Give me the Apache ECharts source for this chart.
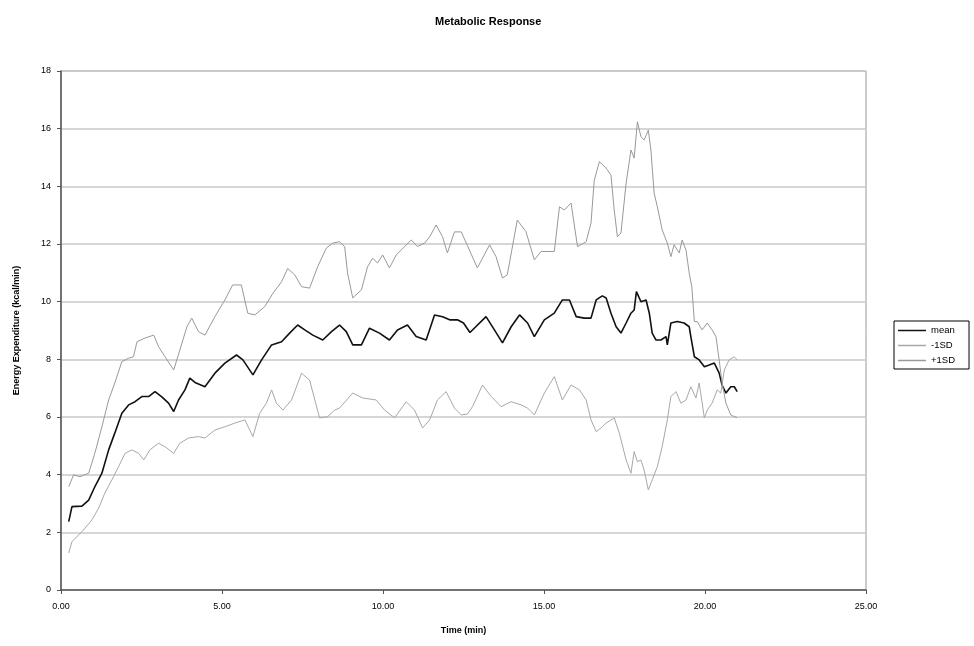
<!DOCTYPE html>
<html>
<head>
<meta charset="utf-8">
<script src="https://cdn.jsdelivr.net/npm/echarts@6/dist/echarts.min.js"></script>
<style>html,body{margin:0;padding:0;background:#fff}#c{width:974px;height:646px}</style>
</head>
<body>
<div id="c"></div>
<script>
var seriesNames = ['mean', '-1SD', '+1SD'];
var yTicks = [0, 2, 4, 6, 8, 10, 12, 14, 16, 18];
var xTicks = [0, 5, 10, 15, 20, 25];

var meanT = [0.24,0.34,0.65,0.86,1.05,1.27,1.48,1.67,1.89,2.10,2.30,2.51,2.72,2.92,3.13,3.34,3.50,3.65,3.85,4.00,4.16,4.47,4.78,5.09,5.45,5.65,5.96,6.23,6.54,6.85,7.10,7.35,7.57,7.82,8.13,8.40,8.65,8.86,9.06,9.33,9.58,9.89,10.20,10.45,10.76,11.03,11.34,11.60,11.85,12.07,12.31,12.50,12.70,13.20,13.46,13.71,13.98,14.24,14.49,14.70,15.01,15.32,15.57,15.79,16.00,16.25,16.46,16.62,16.81,16.93,17.08,17.24,17.39,17.55,17.70,17.80,17.87,18.01,18.17,18.27,18.36,18.48,18.63,18.79,18.83,18.94,19.14,19.35,19.51,19.56,19.67,19.82,19.98,20.13,20.29,20.44,20.53,20.65,20.80,20.91,21.00];
var meanV = [2.37,2.89,2.91,3.12,3.58,4.05,4.86,5.44,6.13,6.42,6.53,6.71,6.71,6.88,6.70,6.48,6.19,6.59,6.94,7.35,7.20,7.05,7.52,7.87,8.15,7.98,7.46,7.98,8.50,8.61,8.91,9.19,9.02,8.84,8.67,8.96,9.19,8.96,8.50,8.50,9.08,8.91,8.67,9.02,9.19,8.79,8.67,9.54,9.48,9.37,9.37,9.26,8.93,9.48,9.02,8.57,9.13,9.54,9.26,8.79,9.37,9.60,10.06,10.06,9.48,9.43,9.43,10.06,10.20,10.13,9.60,9.13,8.91,9.26,9.60,9.71,10.35,10.00,10.06,9.60,8.91,8.67,8.67,8.79,8.50,9.26,9.31,9.26,9.13,8.79,8.09,7.98,7.74,7.80,7.87,7.52,7.11,6.83,7.05,7.05,6.88];

var minusT = [0.24,0.34,0.65,0.96,1.17,1.36,1.58,1.79,1.99,2.20,2.41,2.57,2.76,3.03,3.23,3.50,3.69,3.96,4.27,4.47,4.78,5.09,5.40,5.71,5.96,6.17,6.38,6.54,6.69,6.89,7.16,7.47,7.72,8.03,8.28,8.50,8.65,9.06,9.37,9.79,10.05,10.36,10.72,10.98,11.23,11.45,11.69,11.96,12.22,12.43,12.62,12.78,13.09,13.36,13.67,13.98,14.29,14.49,14.70,15.01,15.32,15.57,15.84,16.10,16.31,16.46,16.62,16.81,16.93,17.18,17.34,17.55,17.70,17.80,17.90,18.01,18.11,18.24,18.36,18.52,18.67,18.83,18.94,19.10,19.25,19.41,19.56,19.72,19.82,19.98,20.07,20.22,20.38,20.49,20.60,20.75,20.91,21.00];
var minusV = [1.28,1.68,2.02,2.43,2.84,3.36,3.82,4.28,4.74,4.86,4.74,4.51,4.86,5.09,4.97,4.74,5.09,5.27,5.32,5.27,5.55,5.66,5.79,5.90,5.32,6.13,6.48,6.94,6.48,6.24,6.59,7.52,7.28,5.97,6.01,6.24,6.31,6.83,6.66,6.59,6.24,5.97,6.53,6.24,5.62,5.90,6.59,6.88,6.31,6.07,6.10,6.36,7.11,6.71,6.36,6.53,6.42,6.31,6.07,6.83,7.40,6.59,7.11,6.94,6.59,5.90,5.49,5.66,5.79,5.97,5.44,4.51,4.05,4.80,4.45,4.51,4.16,3.47,3.82,4.28,4.97,5.90,6.71,6.88,6.48,6.59,7.05,6.66,7.18,5.97,6.24,6.48,6.94,6.83,7.63,7.98,8.09,7.98];

var plusT = [0.24,0.39,0.59,0.86,1.05,1.27,1.48,1.67,1.89,2.10,2.25,2.36,2.61,2.88,3.03,3.23,3.50,3.69,3.91,4.06,4.27,4.47,4.78,5.09,5.33,5.60,5.80,6.02,6.33,6.58,6.85,7.04,7.26,7.47,7.72,7.97,8.24,8.44,8.65,8.81,8.90,9.06,9.33,9.52,9.68,9.83,9.99,10.20,10.41,10.67,10.88,11.07,11.29,11.45,11.65,11.85,12.00,12.22,12.43,12.62,12.93,13.31,13.51,13.71,13.86,14.17,14.44,14.70,14.91,15.32,15.48,15.63,15.84,16.04,16.31,16.46,16.56,16.72,16.93,17.08,17.18,17.28,17.39,17.55,17.70,17.80,17.90,18.01,18.11,18.24,18.32,18.42,18.52,18.67,18.83,18.94,19.04,19.20,19.29,19.41,19.51,19.59,19.67,19.76,19.91,20.07,20.22,20.34,20.44,20.53,20.65,20.80,21.00];
var plusV = [3.58,3.99,3.93,4.05,4.74,5.66,6.59,7.18,7.92,8.04,8.09,8.61,8.74,8.84,8.44,8.09,7.63,8.32,9.13,9.43,8.96,8.84,9.48,10.06,10.58,10.58,9.60,9.54,9.83,10.29,10.69,11.15,10.93,10.52,10.47,11.21,11.86,12.03,12.08,11.91,10.99,10.13,10.41,11.21,11.51,11.34,11.62,11.17,11.62,11.91,12.14,11.91,12.03,12.25,12.66,12.25,11.69,12.42,12.42,11.95,11.17,11.97,11.56,10.82,10.93,12.83,12.43,11.45,11.74,11.74,13.29,13.18,13.42,11.91,12.08,12.73,14.20,14.86,14.63,14.39,13.18,12.25,12.38,14.11,15.26,14.98,16.24,15.72,15.61,15.95,15.26,13.77,13.29,12.49,12.03,11.56,11.97,11.69,12.14,11.79,10.99,10.52,9.31,9.31,9.02,9.26,9.02,8.79,7.98,7.18,6.48,6.07,5.97];

function zip(t, v) { return t.map(function (x, i) { return [x, v[i]]; }); }

var chart = echarts.init(document.getElementById('c'), null, {renderer: 'canvas'});
var font = 'Liberation Sans, Arial, sans-serif';
chart.setOption({
  animation: false,
  backgroundColor: '#fff',
  title: {
    text: 'Metabolic Response',
    left: 430, top: 11,
    textStyle: {fontFamily: font, fontSize: 11, fontWeight: 'bold', color: '#000'}
  },
  legend: {
    orient: 'vertical',
    left: 894, top: 321,
    data: seriesNames.map(function (n) { return {name: n, icon: 'rect'}; }),
    itemWidth: 28, itemHeight: 1.5, itemGap: 4,
    padding: [4, 14, 3, 4],
    borderColor: '#000', borderWidth: 1,
    textStyle: {fontFamily: font, fontSize: 9.5, color: '#000', lineHeight: 11}
  },
  grid: {left: 61, right: 108, top: 71, bottom: 56, show: true, borderColor: '#999', borderWidth: 1},
  xAxis: {
    type: 'value', min: 0, max: 25, interval: 5,
    name: 'Time (min)', nameLocation: 'middle', nameGap: 36,
    nameTextStyle: {fontFamily: font, fontSize: 9, fontWeight: 'bold', color: '#000'},
    axisLine: {show: true, lineStyle: {color: '#555', width: 1.5}},
    axisTick: {show: true, length: 4, lineStyle: {color: '#555'}},
    axisLabel: {fontFamily: font, fontSize: 9, color: '#000', margin: 12,
      formatter: function (v) { return xTicks.indexOf(v) >= 0 ? v.toFixed(2) : ''; }},
    splitLine: {show: false}
  },
  yAxis: {
    type: 'value', min: 0, max: 18, interval: 2,
    name: 'Energy Expenditure (kcal/min)', nameLocation: 'middle', nameGap: 40,
    nameTextStyle: {fontFamily: font, fontSize: 9, fontWeight: 'bold', color: '#000'},
    axisLine: {show: true, lineStyle: {color: '#555', width: 1.5}},
    axisTick: {show: true, length: 4, lineStyle: {color: '#555'}},
    axisLabel: {fontFamily: font, fontSize: 9, color: '#000', margin: 10,
      formatter: function (v) { return yTicks.indexOf(v) >= 0 ? String(v) : ''; }},
    splitLine: {show: true, lineStyle: {color: '#c8c8c8', width: 1.5}}
  },
  series: [
    {name: seriesNames[0], type: 'line', data: zip(meanT, meanV), showSymbol: false, symbol: 'none', z: 3,
      lineStyle: {color: '#111', width: 1.6}, itemStyle: {color: '#111'}},
    {name: seriesNames[1], type: 'line', data: zip(minusT, minusV), showSymbol: false, symbol: 'none',
      lineStyle: {color: '#a8a8a8', width: 1}, itemStyle: {color: '#a8a8a8'}},
    {name: seriesNames[2], type: 'line', data: zip(plusT, plusV), showSymbol: false, symbol: 'none',
      lineStyle: {color: '#999', width: 1}, itemStyle: {color: '#999'}}
  ]
});
</script>
</body>
</html>
